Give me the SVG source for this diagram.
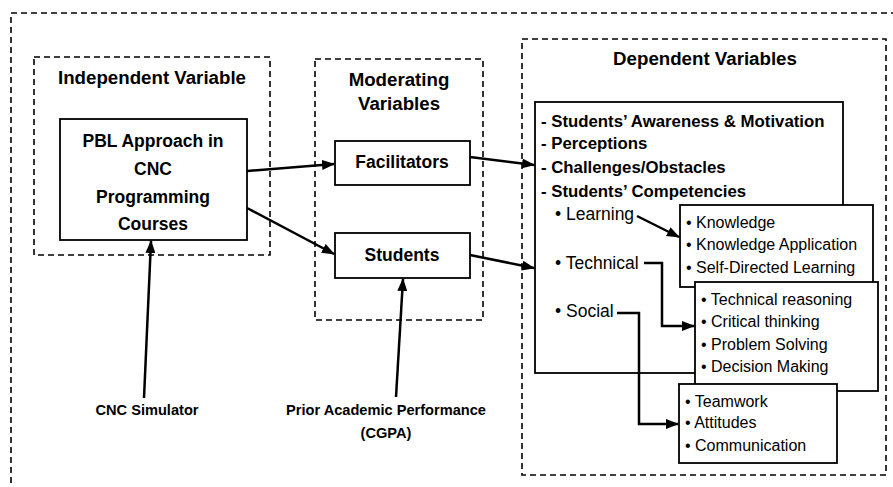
<svg xmlns="http://www.w3.org/2000/svg" width="893" height="487" viewBox="0 0 893 487">
<defs>
<style>
.dash{fill:none;stroke:#000;stroke-width:1.6;stroke-dasharray:6,4}
.box{fill:#fff;stroke:#000;stroke-width:1.8}
.conn{fill:none;stroke:#000;stroke-width:2.5}
.t{font-family:"Liberation Sans",Arial,sans-serif;fill:#000}
.title{font-size:18.7px;font-weight:bold;text-anchor:middle}
.node{font-size:17.5px;font-weight:bold;text-anchor:middle}
.list{font-size:16.8px;font-weight:bold}
.sub{font-size:17.5px}
.item{font-size:16px}
.lbl{font-size:14.6px;font-weight:bold;text-anchor:middle}
</style>
<marker id="ah" markerUnits="userSpaceOnUse" markerWidth="13" markerHeight="10" refX="12" refY="5" orient="auto">
<path d="M0,0 L13,5 L0,10 z" fill="#000"/>
</marker>
</defs>
<rect width="893" height="487" fill="#fff"/>
<rect id="outer" class="dash" x="11" y="13" width="900" height="500"/>

<g id="independent">
<rect class="dash" x="34" y="57" width="236" height="198"/>
<text class="t title" x="152" y="84">Independent Variable</text>
</g>
<g id="pbl">
<rect class="box" x="60" y="119" width="187" height="121"/>
<text class="t node" x="153" y="147">PBL Approach in</text>
<text class="t node" x="153" y="175">CNC</text>
<text class="t node" x="153" y="203">Programming</text>
<text class="t node" x="153" y="230">Courses</text>
</g>

<g id="moderating">
<rect class="dash" x="315" y="59" width="168" height="261"/>
<text class="t title" x="399" y="86">Moderating</text>
<text class="t title" x="399" y="110">Variables</text>
</g>
<g id="facilitators">
<rect class="box" x="335" y="141" width="135" height="44"/>
<text class="t node" x="402" y="168">Facilitators</text>
</g>
<g id="students">
<rect class="box" x="335" y="233" width="135" height="45"/>
<text class="t node" x="402" y="261">Students</text>
</g>

<g id="dependent">
<rect class="dash" x="522" y="39" width="364" height="436"/>
<text class="t title" x="705" y="65">Dependent Variables</text>
</g>
<g id="outcomes">
<rect class="box" x="535" y="102" width="308" height="271"/>
<text class="t list" x="541" y="127">- Students’ Awareness &amp; Motivation</text>
<text class="t list" x="541" y="149">- Perceptions</text>
<text class="t list" x="541" y="173">- Challenges/Obstacles</text>
<text class="t list" x="541" y="197">- Students’ Competencies</text>
<text class="t sub" x="555" y="220">• Learning</text>
<text class="t sub" x="555" y="269">• Technical</text>
<text class="t sub" x="555" y="317">• Social</text>
</g>
<g id="learning-box">
<rect class="box" x="680" y="205" width="193" height="82"/>
<text class="t item" x="686" y="228">• Knowledge</text>
<text class="t item" x="686" y="250">• Knowledge Application</text>
<text class="t item" x="686" y="273">• Self-Directed Learning</text>
</g>
<g id="technical-box">
<rect class="box" x="695" y="282" width="183" height="109"/>
<text class="t item" x="701" y="305">• Technical reasoning</text>
<text class="t item" x="701" y="327">• Critical thinking</text>
<text class="t item" x="701" y="350">• Problem Solving</text>
<text class="t item" x="701" y="372">• Decision Making</text>
</g>
<g id="social-box">
<rect class="box" x="679" y="384" width="158" height="79"/>
<text class="t item" x="685" y="407">• Teamwork</text>
<text class="t item" x="685" y="428">• Attitudes</text>
<text class="t item" x="685" y="451">• Communication</text>
</g>

<g id="cnc-simulator">
<text class="t lbl" x="147" y="415">CNC Simulator</text>
</g>
<g id="prior-performance">
<text class="t lbl" x="386" y="415">Prior Academic Performance</text>
<text class="t lbl" x="386" y="438">(CGPA)</text>
</g>

<g id="connectors">
<line class="conn" x1="247" y1="171" x2="334" y2="164" marker-end="url(#ah)"/>
<line class="conn" x1="247" y1="208" x2="334" y2="254" marker-end="url(#ah)"/>
<line class="conn" x1="470" y1="157" x2="534" y2="165" marker-end="url(#ah)"/>
<line class="conn" x1="470" y1="255" x2="534" y2="268" marker-end="url(#ah)"/>
<line class="conn" x1="144" y1="398" x2="151" y2="241" marker-end="url(#ah)"/>
<line class="conn" x1="396" y1="397" x2="403" y2="279" marker-end="url(#ah)"/>
<line class="conn" x1="637" y1="216" x2="679" y2="237" marker-end="url(#ah)"/>
<polyline class="conn" points="644,263 662,263 662,326 694,326" marker-end="url(#ah)"/>
<polyline class="conn" points="617,313 639,313 639,424 678,424" marker-end="url(#ah)"/>
</g>
</svg>
